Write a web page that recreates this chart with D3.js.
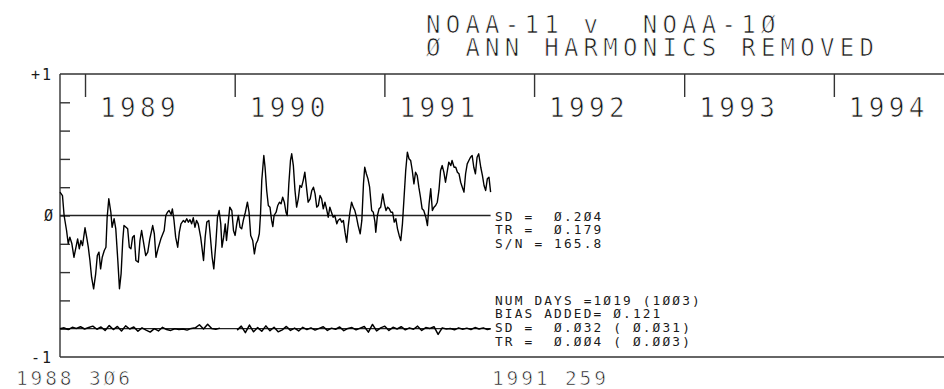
<!DOCTYPE html>
<html>
<head>
<meta charset="utf-8">
<script src="https://cdn.jsdelivr.net/npm/d3@7"></script>
<style>
  html, body { margin: 0; padding: 0; background: #fff; }
  svg { display: block; }
  text { font-family: "DejaVu Sans Mono", "Liberation Mono", monospace; fill: #1a1a1a; white-space: pre; }
  text.big { stroke: #fff; stroke-width: 0.7px; }
</style>
</head>
<body>
<div id="chart"></div>
<script>
// --- data (day offsets from 1988 day 306) ---
const titleLines = ["NOAA-11 v  NOAA-1Ø", "Ø ANN HARMONICS REMOVED"];
const yearTicks = [1989, 1990, 1991, 1992, 1993, 1994];
const startLabel = "1988 3Ø6";
const endLabel = "1991 259";
const upperStats = ["SD =  Ø.2Ø4", "TR =  Ø.179", "S/N = 165.8"];
const lowerStats = ["NUM DAYS =1Ø19 (1ØØ3)", "BIAS ADDED= Ø.121", "SD =  Ø.Ø32 ( Ø.Ø31)", "TR =  Ø.ØØ4 ( Ø.ØØ3)"];

const upperDays = [
  0,6,10,16,20,24,29,34,39,43,47,51,55,61,65,69,73,77,82,87,91,95,99,103,108,112,115,119,124,127,
  132,136,141,145,149,153,156,161,165,169,173,177,181,185,191,195,199,203,209,214,219,226,230,234,240,246,
  254,258,262,266,271,274,278,282,287,291,295,301,305,309,313,317,321,325,329,333,337,343,347,350,354,358,
  363,366,371,375,380,384,388,392,395,399,403,406,410,414,419,423,427,431,435,439,443,447,452,457,461,465,
  470,474,478,482,486,489,492,497,500,504,508,512,
  516,519,522,527,531,535,539,543,547,551,554,558,562,565,569,573,577,581,585,589,593,597,601,605,610,614,
  618,622,626,630,634,638,642,646,650,654,658,662,666,670,675,678,683,687,691,695,699,703,707,711,715,719,
  723,727,732,736,740,743,747,751,755,760,764,768,
  770,774,778,782,787,791,795,799,803,807,811,815,819,823,827,831,835,839,843,847,851,855,859,863,867,871,
  875,879,883,887,892,896,900,904,908,912,916,920,924,928,932,936,940,944,948,953,956,961,965,969,973,977,
  981,985,989,993,997,1001,1005,1009,1013,1017,1021,1026,1030,1034,1038,1042,1046,1050
];
const upperVals = [
  0.165,0.141,0.0,-0.106,-0.198,-0.153,-0.2,-0.295,-0.224,-0.165,-0.235,-0.177,-0.212,-0.087,-0.153,-0.224,
  -0.318,-0.436,-0.518,-0.412,-0.283,-0.259,-0.377,-0.295,-0.247,-0.224,-0.012,0.118,0.023,-0.083,-0.023,
  -0.094,-0.318,-0.518,-0.412,-0.177,-0.071,-0.083,-0.094,-0.224,-0.235,-0.153,-0.141,-0.318,-0.33,-0.177,
  -0.106,-0.177,-0.283,-0.259,-0.165,-0.071,-0.129,-0.295,-0.224,-0.165,
  -0.106,0,0.023,0.035,0.007,0.047,-0.035,-0.153,-0.224,-0.118,-0.059,-0.035,-0.047,-0.023,-0.047,-0.03,
  -0.059,-0.016,-0.083,-0.035,-0.059,-0.153,-0.247,-0.318,-0.153,-0.047,-0.035,-0.129,-0.295,-0.377,
  -0.2,-0.012,0.035,-0.059,-0.224,-0.153,-0.059,-0.177,-0.059,0.059,0.035,-0.106,-0.141,-0.059,0,-0.083,
  -0.094,-0.035,0.023,0.094,0.023,-0.141,-0.177,-0.271,-0.2,-0.177,-0.129,0.012,0.247,0.424,
  0.341,0.177,0.071,0.059,
  -0.035,-0.078,0,0.023,0.071,0.094,0.083,0.129,0.094,0.023,0,0.224,0.389,0.436,0.353,0.177,0.059,0.118,
  0.212,0.2,0.247,0.306,0.2,0.094,0.118,0.177,0.2,0.153,0.059,0.071,0.141,0.118,0.047,0.094,0.047,-0.012,
  0.059,0.023,-0.012,0,-0.059,-0.035,-0.023,-0.047,-0.035,-0.118,-0.189,-0.071,0.023,0.094,0.059,0.035,
  -0.012,-0.071,-0.129,-0.035,0.224,0.341,0.295,0.259,0.2,0.035,0.023,-0.047,
  -0.118,0,0.047,0.059,0.153,0.083,0.035,0.059,0.047,0.023,0.023,-0.047,-0.023,-0.094,-0.141,-0.177,
  -0.059,0.129,0.318,0.447,0.401,0.389,0.318,0.224,0.306,0.283,0.2,0.129,0.047,0.035,-0.012,-0.071,0.083,
  0.189,0.035,0.059,0.071,0.094,0.177,0.318,0.353,0.306,0.235,0.306,0.377,0.353,0.389,0.341,0.341,0.306,
  0.295,0.235,0.2,0.165,0.295,0.365,0.389,0.412,0.424,0.341,0.295,0.412,0.436,0.341,0.283,0.212,0.177,
  0.259,0.271,0.165
];

// lower trace: null marks the data gap
const lowerDays = [
  0,10,20,30,40,50,60,70,80,90,100,110,120,130,140,150,160,170,180,190,200,210,220,230,240,250,260,270,
  280,290,300,310,320,330,340,350,360,370,380,390,411,
  432,442,452,462,472,482,492,502,512,522,532,542,552,562,572,582,592,602,612,622,632,642,652,662,672,
  682,692,702,712,722,732,742,752,762,772,782,792,802,812,822,832,842,852,862,872,882,892,902,912,922,
  932,942,952,962,972,982,992,1002,1012,1022,1032,1042,1050
];
const lowerVals = [
  -0.800,-0.794,-0.806,-0.790,-0.798,-0.786,-0.802,-0.792,-0.782,-0.804,-0.788,-0.812,-0.778,-0.806,
  -0.784,-0.816,-0.780,-0.802,-0.788,-0.818,-0.794,-0.810,-0.824,-0.800,-0.816,-0.790,-0.806,-0.812,
  -0.800,-0.806,-0.802,-0.810,-0.798,-0.794,-0.772,-0.802,-0.768,-0.798,-0.804,-0.796,null,
  -0.810,-0.782,-0.828,-0.774,-0.822,-0.792,-0.818,-0.780,-0.814,-0.790,-0.822,-0.808,-0.784,-0.812,
  -0.796,-0.816,-0.790,-0.806,-0.794,-0.810,-0.798,-0.786,-0.812,-0.796,-0.804,-0.788,-0.814,-0.798,
  -0.792,-0.808,-0.796,-0.784,-0.824,-0.770,-0.816,-0.794,-0.782,-0.812,-0.790,-0.802,-0.786,-0.808,
  -0.794,-0.804,-0.782,-0.812,-0.792,-0.798,-0.786,-0.840,-0.794,-0.802,-0.798,-0.808,-0.794,-0.804,
  -0.796,-0.806,-0.792,-0.802,-0.794,-0.806,-0.800
];
const upperRef = 0;
const lowerRef = -0.8;

// --- layout ---
const W = 944, H = 389;
const plotLeft = 60, plotTop = 74, plotBottom = 357;
const t0 = new Date(1988, 10, 1);
const dayOf = d => d3.timeDay.offset(t0, d);

const x = d3.scaleTime()
  .domain([t0, new Date(1995, 0, 1)])
  .range([plotLeft, plotLeft + 2252 * 0.4101]);
const y = d3.scaleLinear().domain([-1, 1]).range([plotBottom, plotTop]);

const svg = d3.select("#chart").append("svg")
  .attr("width", W).attr("height", H);

function mono(sel, size, advance) {
  return sel.style("font-size", size + "px")
    .style("letter-spacing", (advance - 0.602 * size) + "px");
}

// titles
titleLines.forEach((t, i) => {
  mono(svg.append("text").attr("class", "big"), 24, 19.7)
    .attr("x", 426).attr("y", 32.5 + i * 23.5)
    .text(t);
});

// frame
const frame = svg.append("g").attr("stroke", "#333").attr("stroke-width", 1.4).attr("fill", "none");
frame.append("line").attr("x1", plotLeft).attr("x2", W).attr("y1", y(1)).attr("y2", y(1));
frame.append("line").attr("x1", plotLeft).attr("x2", W).attr("y1", y(-1)).attr("y2", y(-1));

// inner y ticks on left edge
svg.append("g")
  .attr("transform", `translate(${plotLeft},0)`)
  .call(d3.axisRight(y).tickValues(d3.range(-4, 5).map(k => k * 0.2)).tickSize(10).tickSizeOuter(0).tickFormat(""))
  .call(g => g.selectAll("line,path").attr("stroke", "#333").attr("stroke-width", 1.4))
  .call(g => g.select(".domain").attr("d", `M0,${y(-1)}V${y(1)}`));

// year ticks hanging from the top
const yearDates = yearTicks.map(yr => new Date(yr, 0, 1));
svg.append("g")
  .attr("transform", `translate(0,${y(1)})`)
  .call(d3.axisBottom(x).tickValues(yearDates).tickSize(23).tickFormat(""))
  .call(g => g.select(".domain").remove())
  .call(g => g.selectAll("line").attr("stroke", "#333").attr("stroke-width", 1.4));

yearTicks.forEach((yr, i) => {
  mono(svg.append("text").attr("class", "big"), 26, 20)
    .attr("x", x(yearDates[i]) + 15).attr("y", 117)
    .text(String(yr));
});

// y labels
mono(svg.append("text"), 15, 11).attr("x", 31).attr("y", y(1) + 5.5).text("+1");
mono(svg.append("text"), 15, 11).attr("x", 44).attr("y", y(0) + 5.5).text("Ø");
mono(svg.append("text"), 15, 11).attr("x", 31).attr("y", y(-1) + 5.5).text("-1");

// reference lines over the data span
const endDay = d3.max(upperDays);
[upperRef, lowerRef].forEach(v => {
  svg.append("line")
    .attr("x1", plotLeft).attr("x2", x(dayOf(endDay)))
    .attr("y1", y(v)).attr("y2", y(v))
    .attr("stroke", "#222").attr("stroke-width", 1.3);
});

// series
const line = d3.line()
  .defined(d => d[1] !== null)
  .x(d => x(dayOf(d[0])))
  .y(d => y(d[1]));

svg.append("path")
  .datum(upperDays.map((d, i) => [d, upperVals[i]]))
  .attr("d", line)
  .attr("fill", "none").attr("stroke", "#000").attr("stroke-width", 1.4)
  .attr("stroke-linejoin", "round");

svg.append("path")
  .datum(lowerDays.map((d, i) => [d, lowerVals[i]]))
  .attr("d", line)
  .attr("fill", "none").attr("stroke", "#000").attr("stroke-width", 1.5)
  .attr("stroke-linejoin", "round");

// stats blocks
upperStats.forEach((t, i) => {
  mono(svg.append("text"), 12.8, 9.85).attr("x", 495).attr("y", 220.7 + i * 13.5).text(t);
});
const lowerBase = [304.5, 318, 332, 345.5];
lowerStats.forEach((t, i) => {
  mono(svg.append("text"), 12.8, 9.85).attr("x", 495).attr("y", lowerBase[i]).text(t);
});

// bottom date labels
mono(svg.append("text").attr("class", "big"), 19.5, 14.6).attr("x", 16).attr("y", 384.5).text(startLabel);
mono(svg.append("text").attr("class", "big"), 19.5, 14.6).attr("x", 492).attr("y", 384.5).text(endLabel);
</script>
</body>
</html>
